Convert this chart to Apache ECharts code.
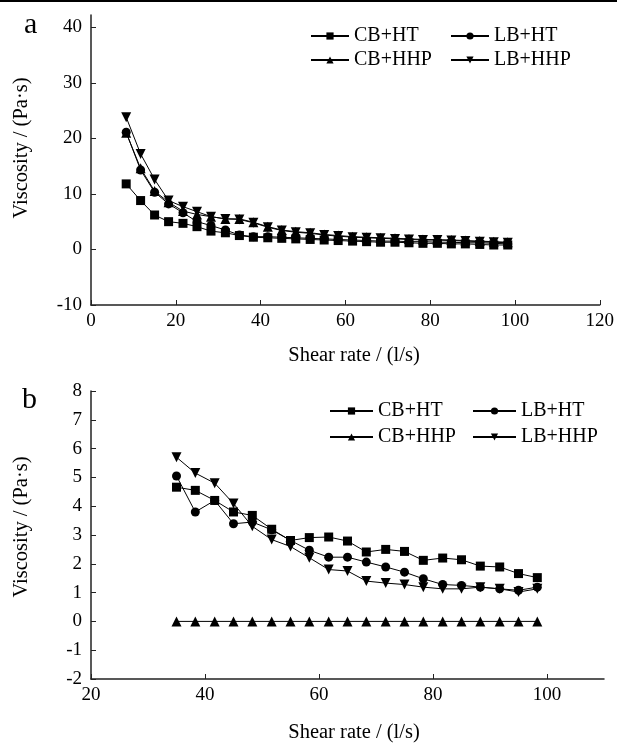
<!DOCTYPE html>
<html><head><meta charset="utf-8">
<script src="https://cdn.jsdelivr.net/npm/echarts@6/dist/echarts.min.js"></script>
<style>html,body{margin:0;padding:0;background:#fff}#c{width:617px;height:744px}</style>
</head><body><div id="c"></div>
<script>
// ---------- data ----------
const seriesNames = ['CB+HT', 'LB+HT', 'CB+HHP', 'LB+HHP'];

// Panel a
const shearA = [8.3, 11.7, 15.0, 18.3, 21.7, 25.0, 28.3, 31.7, 35.0, 38.3, 41.7, 45.0, 48.3, 51.7, 55.0, 58.3, 61.7, 65.0, 68.3, 71.7, 75.0, 78.3, 81.7, 85.0, 88.3, 91.7, 95.0, 98.3];
const cbHtA  = [11.8, 8.8, 6.2, 5.0, 4.7, 4.1, 3.3, 3.0, 2.5, 2.2, 2.1, 2.0, 1.9, 1.8, 1.7, 1.6, 1.5, 1.4, 1.3, 1.3, 1.2, 1.1, 1.1, 1.0, 1.0, 0.9, 0.8, 0.8];
const lbHtA  = [21.1, 14.3, 10.3, 8.2, 6.6, 5.0, 4.3, 3.5, 2.6, 2.3, 2.3, 2.2, 2.1, 2.0, 1.9, 1.8, 1.7, 1.6, 1.5, 1.5, 1.4, 1.4, 1.3, 1.3, 1.2, 1.2, 1.1, 1.0];
const cbHhpA = [21.0, 14.6, 10.5, 8.5, 6.9, 6.3, 5.9, 5.5, 5.5, 4.9, 4.1, 3.5, 3.2, 3.0, 2.7, 2.5, 2.3, 2.2, 2.1, 2.0, 1.9, 1.8, 1.75, 1.7, 1.6, 1.5, 1.4, 1.3];
const lbHhpA = [23.8, 17.2, 12.6, 8.8, 7.7, 6.8, 5.9, 5.5, 5.4, 4.8, 4.0, 3.4, 3.1, 2.9, 2.6, 2.4, 2.2, 2.1, 2.0, 1.9, 1.8, 1.7, 1.7, 1.6, 1.5, 1.4, 1.3, 1.2];
const xTicksA = [0, 20, 40, 60, 80, 100, 120];
const yTicksA = [-10, 0, 10, 20, 30, 40];

// Panel b
const shearB = [35.0, 38.3, 41.7, 45.0, 48.3, 51.7, 55.0, 58.3, 61.7, 65.0, 68.3, 71.7, 75.0, 78.3, 81.7, 85.0, 88.3, 91.7, 95.0, 98.3];
const cbHtB  = [4.66, 4.55, 4.20, 3.80, 3.68, 3.20, 2.81, 2.91, 2.93, 2.79, 2.41, 2.50, 2.43, 2.12, 2.20, 2.14, 1.92, 1.89, 1.66, 1.52];
const lbHtB  = [5.05, 3.80, 4.20, 3.39, 3.45, 3.18, 2.81, 2.47, 2.23, 2.23, 2.06, 1.89, 1.71, 1.48, 1.28, 1.25, 1.19, 1.13, 1.08, 1.19];
const cbHhpB = [0, 0, 0, 0, 0, 0, 0, 0, 0, 0, 0, 0, 0, 0, 0, 0, 0, 0, 0, 0];
const lbHhpB = [5.70, 5.15, 4.80, 4.09, 3.30, 2.84, 2.60, 2.21, 1.80, 1.75, 1.40, 1.33, 1.28, 1.19, 1.13, 1.13, 1.19, 1.13, 1.02, 1.13];
const xTicksB = [20, 40, 60, 80, 100];
const yTicksB = [-2, -1, 0, 1, 2, 3, 4, 5, 6, 7, 8];

const xTitle = 'Shear rate / (l/s)';
const yTitle = 'Viscosity / (Pa·s)';

// ---------- chart ----------
const FONT = '"Liberation Serif","Times New Roman",serif';
const symbols = ['rect', 'circle', 'triangle', 'triangle'];
const rotates = [0, 0, 0, 180];
const sizes = [9, 9, 10, 10];

function mk(idx, xs, ys, axis) {
  return {
    name: seriesNames[idx], type: 'line', xAxisIndex: axis, yAxisIndex: axis,
    data: xs.map((x, i) => [x, ys[i]]),
    symbol: symbols[idx], symbolRotate: rotates[idx], symbolSize: sizes[idx],
    lineStyle: {color: '#000', width: 1}, itemStyle: {color: '#000'},
    emphasis: {disabled: true}, animation: false
  };
}

const axisLine = {lineStyle: {color: '#222', width: 1.5}};
const lbl = {fontFamily: FONT, fontSize: 19, color: '#000'};

function legend(left, top, names, w, gap) {
  return {
    orient: 'vertical', left: left, top: top, data: names, padding: 0,
    itemWidth: w, itemHeight: 9, itemGap: gap, selectedMode: false,
    textStyle: {fontFamily: FONT, fontSize: 20, color: '#000'}
  };
}

const option = {
  backgroundColor: '#fff',
  animation: false,
  grid: [
    {left: 91, right: 15, top: 15, bottom: 439},
    {left: 91, right: 13, top: 391, bottom: 65}
  ],
  xAxis: [
    {type: 'value', gridIndex: 0, min: 0, max: 120, interval: 20,
     axisLine: Object.assign({onZero: false}, axisLine),
     axisTick: {inside: true, length: 5, lineStyle: {color: '#222'}, customValues: xTicksA},
     axisLabel: Object.assign({margin: 7, customValues: xTicksA}, lbl),
     splitLine: {show: false}},
    {type: 'value', gridIndex: 1, min: 20, max: 110, interval: 20,
     axisLine: Object.assign({onZero: false}, axisLine),
     axisTick: {inside: true, length: 5, lineStyle: {color: '#222'}, customValues: xTicksB},
     axisLabel: Object.assign({margin: 7, customValues: xTicksB}, lbl),
     splitLine: {show: false}}
  ],
  yAxis: [
    {type: 'value', gridIndex: 0, min: -10, max: 42.2,
     axisLine: Object.assign({onZero: false}, axisLine),
     axisTick: {inside: true, length: 5, lineStyle: {color: '#222'}, customValues: yTicksA},
     axisLabel: Object.assign({margin: 9, customValues: yTicksA}, lbl),
     splitLine: {show: false}},
    {type: 'value', gridIndex: 1, min: -2, max: 8, interval: 1,
     axisLine: Object.assign({onZero: false}, axisLine),
     axisTick: {inside: true, length: 5, lineStyle: {color: '#222'}, customValues: yTicksB},
     axisLabel: Object.assign({margin: 9, customValues: yTicksB}, lbl),
     splitLine: {show: false}}
  ],
  legend: [
    legend(310, 26, [seriesNames[0], seriesNames[2]], 38, 4),
    legend(450, 26, [seriesNames[1], seriesNames[3]], 38, 4),
    legend(329, 401, [seriesNames[0], seriesNames[2]], 43, 6),
    legend(472, 401, [seriesNames[1], seriesNames[3]], 43, 6)
  ],
  graphic: [
    {type: 'rect', left: 0, top: 0, shape: {width: 617, height: 2}, style: {fill: '#000'}},
    {type: 'text', left: 24, top: 10, style: {text: 'a', font: '30px ' + FONT, fill: '#000'}},
    {type: 'text', left: 22, top: 385, style: {text: 'b', font: '30px ' + FONT, fill: '#000'}},
    {type: 'text', x: 354, y: 356, style: {text: xTitle, font: '20.5px ' + FONT, fill: '#000', align: 'center', verticalAlign: 'middle'}},
    {type: 'text', x: 354, y: 733, style: {text: xTitle, font: '20.5px ' + FONT, fill: '#000', align: 'center', verticalAlign: 'middle'}},
    {type: 'text', x: 22, y: 148, rotation: Math.PI / 2, style: {text: yTitle, font: '20.5px ' + FONT, fill: '#000', align: 'center', verticalAlign: 'middle'}},
    {type: 'text', x: 22, y: 527, rotation: Math.PI / 2, style: {text: yTitle, font: '20.5px ' + FONT, fill: '#000', align: 'center', verticalAlign: 'middle'}}
  ],
  series: [
    mk(0, shearA, cbHtA, 0), mk(1, shearA, lbHtA, 0), mk(2, shearA, cbHhpA, 0), mk(3, shearA, lbHhpA, 0),
    mk(0, shearB, cbHtB, 1), mk(1, shearB, lbHtB, 1), mk(2, shearB, cbHhpB, 1), mk(3, shearB, lbHhpB, 1)
  ]
};

const chart = echarts.init(document.getElementById('c'), null, {renderer: 'canvas'});
chart.setOption(option);
</script>
</body></html>
